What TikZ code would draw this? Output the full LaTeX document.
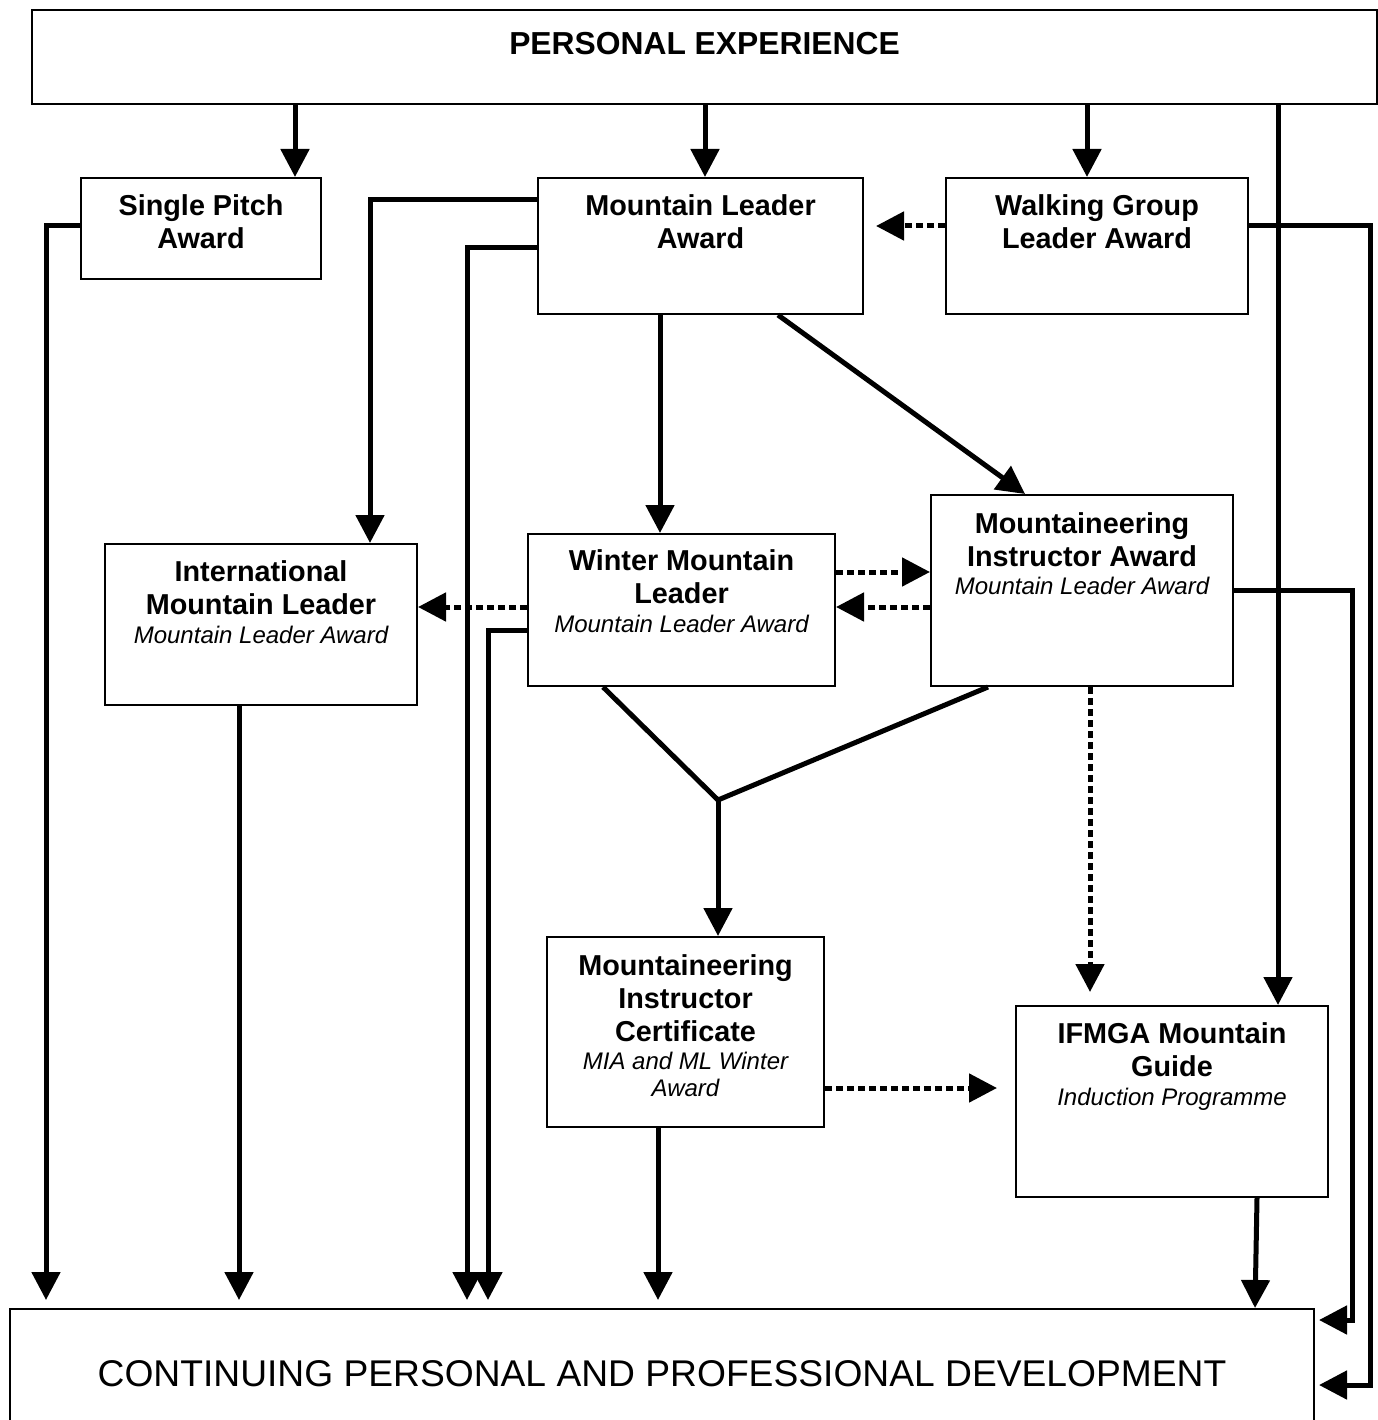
\documentclass[tikz,border=0pt]{standalone}
\usepackage{fontspec}
\setmainfont{Liberation Sans}
\usetikzlibrary{arrows.meta,positioning}
\tikzset{
  box/.style={draw, line width=2pt, anchor=north west, inner sep=0pt},
  lbl/.style={inner sep=0pt, align=center, font=\fontsize{28.8}{33}\selectfont\bfseries},
  link/.style={line width=5pt, -{Triangle[width=28pt,length=28pt]}},
  hint/.style={link, dash pattern=on 7pt off 4pt},
}
\newcommand\sublbl[1]{{\fontsize{24}{27}\selectfont\mdseries\itshape #1}}
\begin{document}
\begin{tikzpicture}[x=1pt, y=-1pt]
	\useasboundingbox (0,0) rectangle (1377,1420);

	\node[box, minimum width=1345pt, minimum height=94pt] (pe) at (31,9) {};
	\node[box, minimum width=240pt, minimum height=101pt] (sp) at (80,177) {};
	\node[box, minimum width=325pt, minimum height=136pt] (ml) at (537,177) {};
	\node[box, minimum width=302pt, minimum height=136pt] (wgl) at (945,177) {};
	\node[box, minimum width=312pt, minimum height=161pt] (iml) at (104,543) {};
	\node[box, minimum width=307pt, minimum height=152pt] (wml) at (527,533) {};
	\node[box, minimum width=302pt, minimum height=191pt] (mia) at (930,494) {};
	\node[box, minimum width=277pt, minimum height=190pt] (mic) at (546,936) {};
	\node[box, minimum width=312pt, minimum height=191pt] (ifm) at (1015,1005) {};
	\node[box, minimum width=1304pt, minimum height=140pt] (cpd) at (9,1308) {};

	\node[lbl, font=\fontsize{31.8}{36}\selectfont\bfseries, below=23pt of pe.north] (petxt) {PERSONAL EXPERIENCE};
	\node[lbl, below=17pt of sp.north] (sptxt) {Single Pitch\\Award};
	\node[lbl, below=17pt of ml.north] (mltxt) {Mountain Leader\\Award};
	\node[lbl, below=17pt of wgl.north] (wgltxt) {Walking Group\\Leader Award};
	\node[lbl, below=17pt of iml.north] (imltxt) {International\\Mountain Leader\\[-4pt]\sublbl{Mountain Leader Award}};
	\node[lbl, below=16pt of wml.north] (wmltxt) {Winter Mountain\\Leader\\[-4pt]\sublbl{Mountain Leader Award}};
	\node[lbl, below=18pt of mia.north] (miatxt) {Mountaineering\\Instructor Award\\[-5pt]\sublbl{Mountain Leader Award}};
	\node[lbl, below=18pt of mic.north] (mictxt) {Mountaineering\\Instructor\\Certificate\\[-5pt]\sublbl{MIA and ML Winter}\\[-6pt]\sublbl{Award}};
	\node[lbl, below=17pt of ifm.north] (ifmtxt) {IFMGA Mountain\\Guide\\[-4pt]\sublbl{Induction Programme}};
	\node[lbl, font=\fontsize{37.2}{44}\selectfont, below=52pt of cpd.north] (cpdtxt) {CONTINUING PERSONAL AND PROFESSIONAL DEVELOPMENT};

	\foreach \n/\x in {sp/295, ml/705, wgl/1087, ifm/1278}
	{
		\draw[link] (pe.south -| \x,0) -- (\n.north -| \x,0);
	}
	\draw[link, shorten >=8pt] (sp.west |- 0,226) -| (cpd.north -| 46,0);
	\draw[link] (ml.west |- 0,200) -| (iml.north -| 370,0);
	\draw[link, shorten >=8pt] (ml.west |- 0,248) -| (cpd.north -| 467,0);
	\draw[link, shorten >=8pt] (wml.west |- 0,630) -| (cpd.north -| 488,0);
	\draw[link] (ml.south -| 660,0) -- (wml.north -| 660,0);
	\draw[link] (ml.south -| 778,0) -- (mia.north -| 1025,0);
	\draw[link, shorten >=4pt] (wgl.east |- 0,226) -| (1370,1385) -- (cpd.east |- 0,1385);
	\draw[link, shorten >=4pt] (mia.east |- 0,590) -| (1352,1320) -- (cpd.east |- 0,1320);

	\draw[hint, shorten >=12pt] (wgl.west |- 0,226) -- (ml.east |- 0,226);
	\draw[hint] (wml.west |- 0,607) -- (iml.east |- 0,607);
	\draw[hint] (wml.east |- 0,572) -- (mia.west |- 0,572);
	\draw[hint] (mia.west |- 0,607) -- (wml.east |- 0,607);
	\draw[hint, shorten >=13pt] (mia.south -| 1090,0) -- (ifm.north -| 1090,0);
	\draw[hint, shorten >=18pt] (mic.east |- 0,1088) -- (ifm.west |- 0,1088);

	\coordinate (jn) at (718,800);
	\draw[line width=5pt] (wml.south -| 603,0) -- (jn) -- (mia.south -| 988,0);
	\draw[link] (jn) -- (mic.north -| 718,0);

	\foreach \n/\x in {iml/239, mic/658}
	{
		\draw[link, shorten >=8pt] (\n.south -| \x,0) -- (cpd.north -| \x,0);
	}
	\draw[link] (ifm.south -| 1257,0) -- (cpd.north -| 1255,0);
\end{tikzpicture}
\end{document}
